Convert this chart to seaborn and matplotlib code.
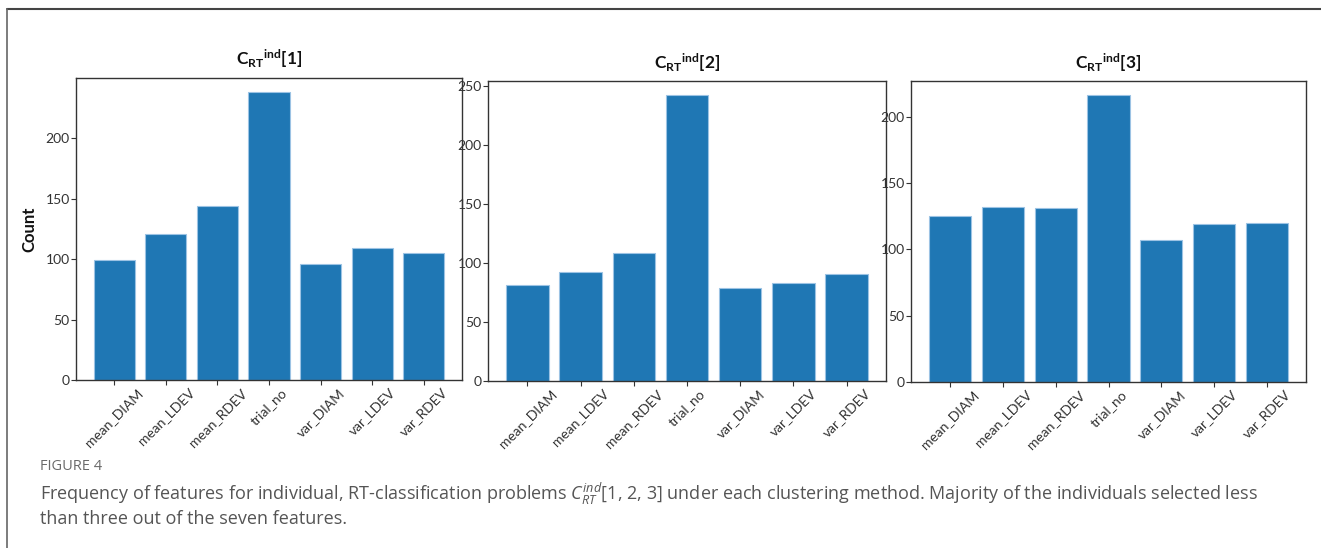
import matplotlib
matplotlib.use("Agg")
import matplotlib.pyplot as plt
import seaborn as sns
import pandas as pd
from matplotlib.lines import Line2D

features = ["mean_DIAM", "mean_LDEV", "mean_RDEV", "trial_no", "var_DIAM", "var_LDEV", "var_RDEV"]
counts_1 = [99, 121, 144, 238, 96, 109, 105]
counts_2 = [81, 92, 108, 242, 79, 83, 91]
counts_3 = [125, 132, 131, 216, 107, 119, 120]
panel_titles = [r"$\mathbf{{C_{RT}}^{ind}[1]}$", r"$\mathbf{{C_{RT}}^{ind}[2]}$", r"$\mathbf{{C_{RT}}^{ind}[3]}$"]
y_label = "Count"
fig_label = "FIGURE 4"
caption_1 = (r"Frequency of features for individual, RT-classification problems $C_{RT}^{ind}$[1, 2, 3] "
             r"under each clustering method. Majority of the individuals selected less")
caption_2 = "than three out of the seven features."

sns.set_style("ticks")
plt.rcParams['font.family'] = ['Lato', 'DejaVu Sans']
plt.rcParams['mathtext.fontset'] = 'custom'
plt.rcParams['mathtext.rm'] = 'Lato'
plt.rcParams['mathtext.bf'] = 'Lato:bold'
plt.rcParams['mathtext.it'] = 'Open Sans:italic'
plt.rcParams['axes.edgecolor'] = '#333333'
plt.rcParams['axes.linewidth'] = 1.0

fig = plt.figure(figsize=(13.21, 5.48), dpi=100)
positions = [
    [76/1321, 1-380/548, (462-76)/1321, (380-78)/548],
    [488/1321, 1-381/548, (886-488)/1321, (381-81)/548],
    [911/1321, 1-382/548, (1306-911)/1321, (382-81)/548],
]
all_counts = [counts_1, counts_2, counts_3]

for i, (pos, cnt, title) in enumerate(zip(positions, all_counts, panel_titles)):
    ax = fig.add_axes(pos)
    df = pd.DataFrame({"feature": features, "count": cnt})
    sns.barplot(data=df, x="feature", y="count", ax=ax, color="#1f77b4", saturation=1,
                width=0.8, edgecolor="#9cc3e4", linewidth=0.8)
    n = len(features)
    ax.set_xlim(-0.74, n - 1 + 0.74)
    ax.set_ylim(0, max(cnt) * 1.05)
    ax.set_title(title, fontsize=12.5, pad=9, color="#111111")
    ax.set_xlabel("")
    if i == 0:
        ax.set_ylabel(y_label, fontsize=12, fontweight="bold", color="#111111", labelpad=6)
    else:
        ax.set_ylabel("")
    ax.tick_params(axis="both", labelsize=10, colors="#333333", length=3.5, width=0.8, pad=1)
    plt.setp(ax.get_xticklabels(), rotation=45, ha="center", rotation_mode="default")
    for sp in ax.spines.values():
        sp.set_visible(True)
        sp.set_color("#333333")

# page border lines
fig.add_artist(Line2D([7/1321, 1], [1-9/548, 1-9/548], transform=fig.transFigure, color="#444444", lw=1.5))
fig.add_artist(Line2D([7/1321, 7/1321], [0, 1-9/548], transform=fig.transFigure, color="#666666", lw=1.2))

fig.text(40/1321, 1-466/548, fig_label, fontsize=10.5, color="#6a6a6a", family=['Open Sans', 'DejaVu Sans'], va="center")
fig.text(40/1321, 1-494/548, caption_1, fontsize=13, color="#555555", family=['Open Sans', 'DejaVu Sans'], va="center")
fig.text(40/1321, 1-519/548, caption_2, fontsize=13, color="#555555", family=['Open Sans', 'DejaVu Sans'], va="center")

fig.savefig("out.png", dpi=100)
